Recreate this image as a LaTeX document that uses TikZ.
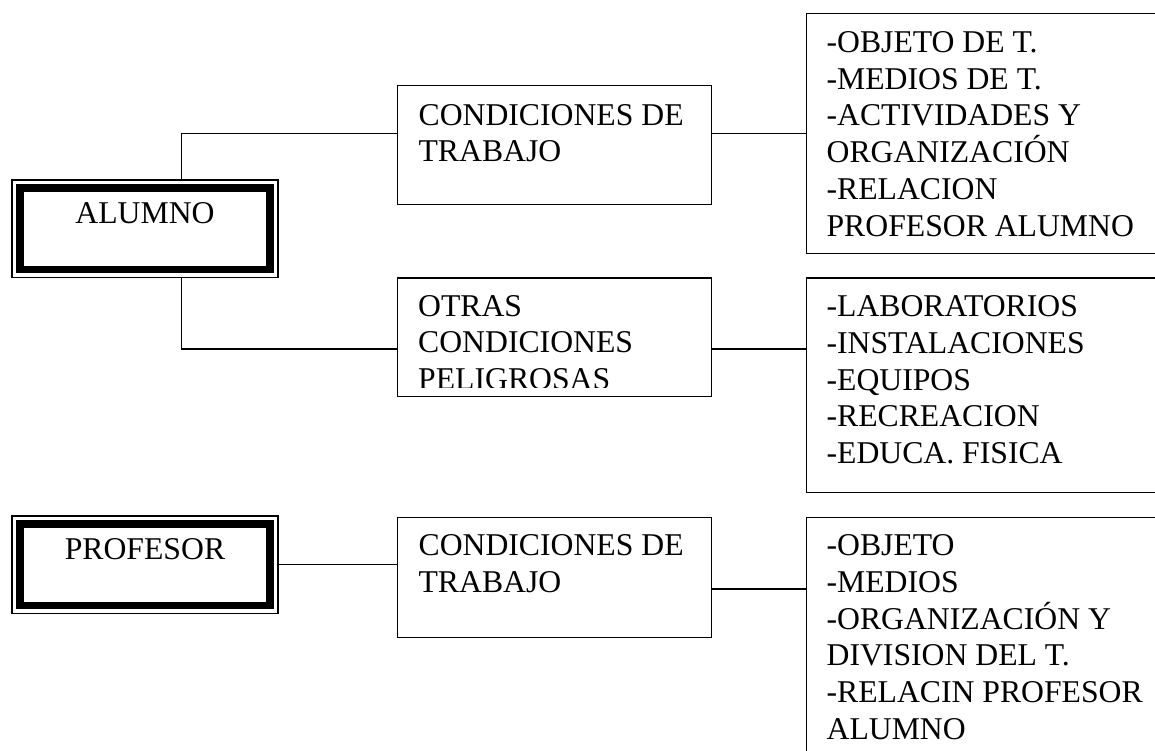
\documentclass[tikz,border=0pt]{standalone}
\usepackage{fontspec}
\setmainfont{Liberation Serif}
\usetikzlibrary{positioning}
\tikzset{
every node/.style = {font = \fontsize{31.7pt}{36.7pt}\selectfont},
person/.style = {rectangle, draw, line width = 7.3pt, fill = white,
   preaction = {draw, line width = 17.2pt},
   preaction = {draw = white, line width = 14.8pt},
   minimum width = 250pt, minimum height = 81.3pt, inner sep = 0pt,
   outer sep = 8pt, text height = 35.3pt, text depth = 46pt},
condbox/.style = {rectangle, draw, line width = 1.2pt, anchor = north west,
   inner xsep = 21pt, inner ysep = 0pt},
listbox/.style = {rectangle, draw, line width = 1.2pt, anchor = north west,
   inner xsep = 20.3pt, inner ysep = 0pt},
boxtext/.style = {anchor = base west, inner sep = 0pt},
link/.style = {draw, line width = 1.2pt}
}
\newcommand{\condtext}[1]{\parbox[t]{271.7pt}{\raggedright #1}}
\newcommand{\listtext}[1]{\parbox[t]{330pt}{\raggedright #1}}

\begin{document}
\begin{tikzpicture}[x = 1pt, y = -1pt]
\useasboundingbox (0,0) rectangle (1155,751);
\clip (0,0) rectangle (1155,751);

%% The two persons
\node [person] (alumno) at (145,228.6) {ALUMNO};
\node [person] (profesor) [below = 238.7pt of alumno] {PROFESOR};

%% Working conditions
\node [condbox, text height = 40pt, text depth = 79.3pt] (ct1) at (397,84.7)
   {\condtext{CONDICIONES DE\\TRABAJO}};
\node [condbox, minimum width = 313.7pt, minimum height = 118.7pt] (otras) at (397,277.3) {};
\node [condbox, text height = 38.3pt, text depth = 81.7pt] (ct2) at (397,516.7)
   {\condtext{CONDICIONES DE\\TRABAJO}};

% text of the second box is cut off at the bottom
\begin{scope}
\clip (otras.north west) rectangle ([yshift = 9.3pt]otras.south east);
\node [boxtext] (otrastext) at ([xshift = 21pt, yshift = -38.7pt]otras.north west)
   {\condtext{OTRAS\\CONDICIONES\\PELIGROSAS}};
\end{scope}

%% The lists
\node [listbox, text height = 39.3pt, text depth = 200.7pt] (r1) at (805.7,12.7)
   {\listtext{-OBJETO DE T.\\-MEDIOS DE T.\\-ACTIVIDADES Y\\ORGANIZACIÓN\\-RELACION\\PROFESOR ALUMNO}};
\node [listbox, text height = 38.7pt, text depth = 176pt] (r2) at (805.7,277.3)
   {\listtext{-LABORATORIOS\\-INSTALACIONES\\-EQUIPOS\\-RECREACION\\-EDUCA. FISICA}};
\node [listbox, text height = 38pt, text depth = 260pt] (r3) at (805.7,517)
   {\listtext{-OBJETO\\-MEDIOS\\-ORGANIZACIÓN Y\\DIVISION DEL T.\\-RELACIN PROFESOR\\ALUMNO}};

%% Connectors
\draw [link] ([xshift = 36.7pt]alumno.north) |- ([yshift = 11.7pt]ct1.west);
\draw [link] ([xshift = 36.7pt]alumno.south) |- ([yshift = -11.7pt]otras.west);
\draw [link] (profesor.east) -- (profesor.east -| ct2.west);

\draw [link] ([yshift = 11.7pt]ct1.east) -- ([yshift = 11.7pt]ct1.east -| r1.west);
\draw [link] ([yshift = -11.7pt]otras.east) -- ([yshift = -11.7pt]otras.east -| r2.west);
\draw [link] ([yshift = -11.7pt]ct2.east) -- ([yshift = -11.7pt]ct2.east -| r3.west);

\end{tikzpicture}
\end{document}
